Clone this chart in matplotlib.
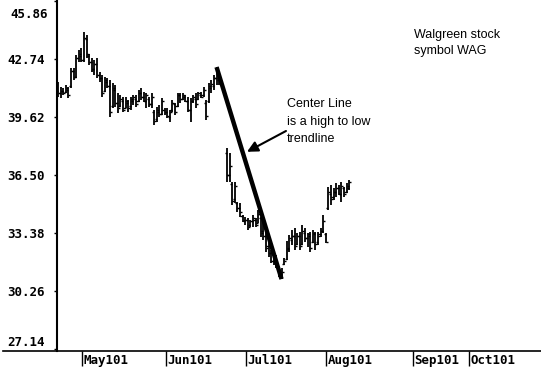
#import libraries
import numpy as np
import matplotlib.pyplot as plt
from matplotlib.lines import Line2D
from matplotlib.transforms import offset_copy

###############################################################################
#daily price bars (nan = no bars drawn for that day)
high = [41.50, 41.24, 41.18, 41.34, 41.24, 42.26, 42.26, 42.96, 43.23, 43.33,
        44.19, 44.03, 43.00, 42.80, 42.69, 42.80, 42.04, 41.88, 41.77, 41.72,
        41.61, 41.45, 41.34, 40.91, 40.81, 40.70, 40.70, 40.54, 40.70, 40.81,
        40.81, 41.07, 41.18, 40.97, 40.91, 40.70, 40.91, 40.00, 40.16, 40.27,
        40.64, 40.11, 40.11, 40.00, 40.54, 40.37, 40.91, 40.91, 40.91, 40.81,
        40.70, 40.64, 40.81, 40.91, 40.97, 40.97, 41.24, 40.54, 41.45, 41.61,
        41.88, 42.31, 41.77, np.nan, np.nan,
        37.95, 37.68, 36.12, 36.12, 35.05, 35.00, 34.35, 34.24, 34.19, 34.08,
        34.35, 34.19, 34.62, 34.24, 33.92, 33.54, 33.17, 32.47, 32.09, 32.20,
        31.55, 31.50, 32.04, 32.95, 33.27, 33.54, 33.65, 33.38, 33.43, 33.81,
        33.65, 33.38, 33.43, 33.54, 33.43, 33.43, 33.65, 34.35, 33.38, 35.86,
        35.96, 35.80, 36.07, 35.96, 36.12, 35.86, 36.07, 36.23]
low = [40.70, 40.64, 40.81, 40.91, 40.64, 41.18, 41.61, 41.72, 42.58, 42.58,
       42.58, 42.80, 42.40, 42.04, 41.88, 41.72, 41.50, 40.70, 40.97, 41.18,
       39.62, 40.11, 40.16, 39.84, 40.16, 39.89, 40.11, 39.89, 40.00, 40.27,
       40.16, 40.43, 40.54, 40.43, 40.11, 40.16, 40.11, 39.19, 39.35, 39.62,
       39.73, 39.73, 39.57, 39.35, 39.89, 39.73, 40.16, 40.37, 40.54, 40.43,
       39.89, 39.35, 40.37, 40.11, 40.54, 40.64, 40.70, 39.46, 40.37, 40.91,
       41.07, 41.34, 41.34, np.nan, np.nan,
       36.12, 36.12, 34.89, 35.00, 34.51, 34.24, 33.97, 33.81, 33.54, 33.70,
       33.70, 33.70, 33.92, 33.17, 33.00, 32.36, 32.09, 31.77, 31.66, 31.50,
       31.01, 30.90, 31.66, 31.93, 32.36, 32.74, 32.47, 32.74, 32.47, 32.74,
       32.90, 32.63, 32.36, 32.84, 32.47, 32.74, 33.17, 33.38, 32.84, 34.62,
       34.89, 35.16, 35.32, 35.43, 35.05, 35.32, 35.53, 35.70]
opn = [41.0, 40.9, 41.0, 40.95, 41.1, 41.3, 42.1, 41.8, 42.8, 42.9,
       42.7, 43.8, 42.9, 42.6, 42.2, 42.5, 41.9, 41.7, 41.0, 41.5,
       41.3, 40.2, 41.1, 40.4, 40.2, 40.5, 40.1, 40.4, 40.2, 40.5,
       40.6, 40.5, 40.9, 40.7, 40.5, 40.6, 40.3, 39.9, 39.5, 39.9,
       39.8, 40.0, 39.9, 39.6, 40.0, 40.3, 40.2, 40.8, 40.6, 40.7,
       40.5, 40.0, 40.5, 40.6, 40.6, 40.8, 40.8, 40.4, 40.5, 41.2,
       41.3, 41.7, 41.6, np.nan, np.nan,
       37.7, 36.5, 36.0, 35.2, 35.0, 34.7, 34.3, 34.0, 34.1, 33.8,
       34.0, 34.1, 33.9, 34.2, 33.5, 33.2, 32.7, 32.3, 31.9, 31.8,
       31.5, 31.2, 31.7, 32.0, 32.5, 33.0, 33.2, 32.8, 33.2, 32.8,
       33.4, 33.1, 33.2, 32.9, 33.3, 32.9, 33.3, 33.5, 33.3, 34.7,
       35.5, 35.3, 35.6, 35.8, 35.5, 35.8, 35.6, 35.8]
close = [40.9, 41.0, 40.9, 41.2, 40.8, 42.1, 41.8, 42.8, 43.0, 42.7,
         43.9, 43.0, 42.6, 42.2, 42.5, 41.9, 41.7, 40.9, 41.6, 41.3,
         39.9, 41.2, 40.4, 40.1, 40.6, 40.0, 40.5, 40.1, 40.6, 40.7,
         40.3, 40.9, 40.7, 40.5, 40.8, 40.3, 40.7, 39.4, 40.0, 39.8,
         40.5, 39.9, 39.7, 39.9, 40.4, 39.9, 40.8, 40.6, 40.8, 40.5,
         40.0, 40.5, 40.7, 40.3, 40.9, 40.7, 41.1, 39.7, 41.3, 41.4,
         41.7, 42.0, 41.5, np.nan, np.nan,
         36.5, 37.0, 35.1, 35.9, 34.7, 34.5, 34.1, 34.1, 33.7, 34.0,
         34.2, 33.8, 34.4, 33.4, 33.2, 32.6, 32.3, 31.9, 31.8, 31.6,
         31.2, 31.3, 31.9, 32.6, 33.1, 33.2, 32.7, 33.2, 32.7, 33.5,
         33.1, 33.3, 32.6, 33.4, 32.8, 33.2, 33.5, 34.0, 32.9, 35.6,
         35.2, 35.6, 35.8, 35.5, 35.9, 35.5, 35.9, 36.1]

#axis ticks
yticks = [27.14, 30.26, 33.38, 36.50, 39.62, 42.74, 45.86]
ytick_labels = ['27.14', '30.26', '33.38', '36.50', '39.62', '42.74', '45.86']
month_pos = [9.2, 41.5, 72.3, 103.1, 136.5, 158.1]
month_labels = ['May101', 'Jun101', 'Jul101', 'Aug101', 'Sep101', 'Oct101']

#trendline goes from this bar's high to that bar's low
trend_from = 61
trend_to = 86

###############################################################################
high = np.array(high)
low = np.array(low)
opn = np.array(opn)
close = np.array(close)
x = np.arange(len(high))

fig = plt.figure(figsize=(5.41, 3.73), dpi=100)
ax = fig.add_axes([57/541, 22/373, 484/541, 351/373])

#ohlc bars
ax.vlines(x, low, high, colors='black', linewidth=1.3)
ax.hlines(opn, x - 0.8, x, colors='black', linewidth=1.0)
ax.hlines(close, x, x + 0.8, colors='black', linewidth=1.0)

#high to low trendline
ax.plot([x[trend_from], x[trend_to]], [high[trend_from], low[trend_to]],
        color='black', linewidth=3.2, solid_capstyle='butt')

#arrow + notes
ax.annotate('', xy=(72.7, 37.75), xytext=(87.7, 38.87),
            arrowprops=dict(arrowstyle='-|>', color='black', lw=1.5,
                            mutation_scale=16, shrinkA=0, shrinkB=0))
ax.text(88.0, 40.62, 'Center Line\nis a high to low\ntrendline',
        family='Liberation Sans', fontsize=9, va='top', ha='left',
        linespacing=1.6)
ax.text(137.0, 44.38, 'Walgreen stock\nsymbol WAG',
        family='Liberation Sans', fontsize=9, va='top', ha='left',
        linespacing=1.5)

#axes
ax.set_xlim(-0.38, 185.8)
ax.set_ylim(27.03, 45.92)
ax.spines['top'].set_visible(False)
ax.spines['right'].set_visible(False)
ax.spines['left'].set_linewidth(1.5)
ax.spines['bottom'].set_linewidth(1.2)

mono = dict(family='DejaVu Sans Mono', fontweight='bold', fontsize=9)

#top label sits lower than its tick in the original, draw it by hand
ax.set_yticks(yticks)
ax.set_yticklabels(ytick_labels[:-1] + [''], **mono)
ax.tick_params(axis='y', length=2, width=1, pad=7)
ax.get_yticklabels()[0].set_va('bottom')
top_tr = offset_copy(ax.get_yaxis_transform(), fig=fig, x=-9, y=-7,
                     units='dots')
ax.text(0, yticks[-1], ytick_labels[-1], transform=top_tr, ha='right',
        va='top', **mono)

ax.set_xticks(month_pos)
ax.set_xticklabels([])
ax.tick_params(axis='x', length=11, width=1, direction='out')
for pos, lab in zip(month_pos, month_labels):
    ax.text(pos + 0.7, -0.009, lab, transform=ax.get_xaxis_transform(),
            ha='left', va='top', **mono)

#x axis line runs on past the y axis to the left edge
fig.add_artist(Line2D([3/541, 57/541], [22/373, 22/373], color='black',
                      linewidth=1.2))

fig.savefig('out.png', dpi=100, facecolor='white')
